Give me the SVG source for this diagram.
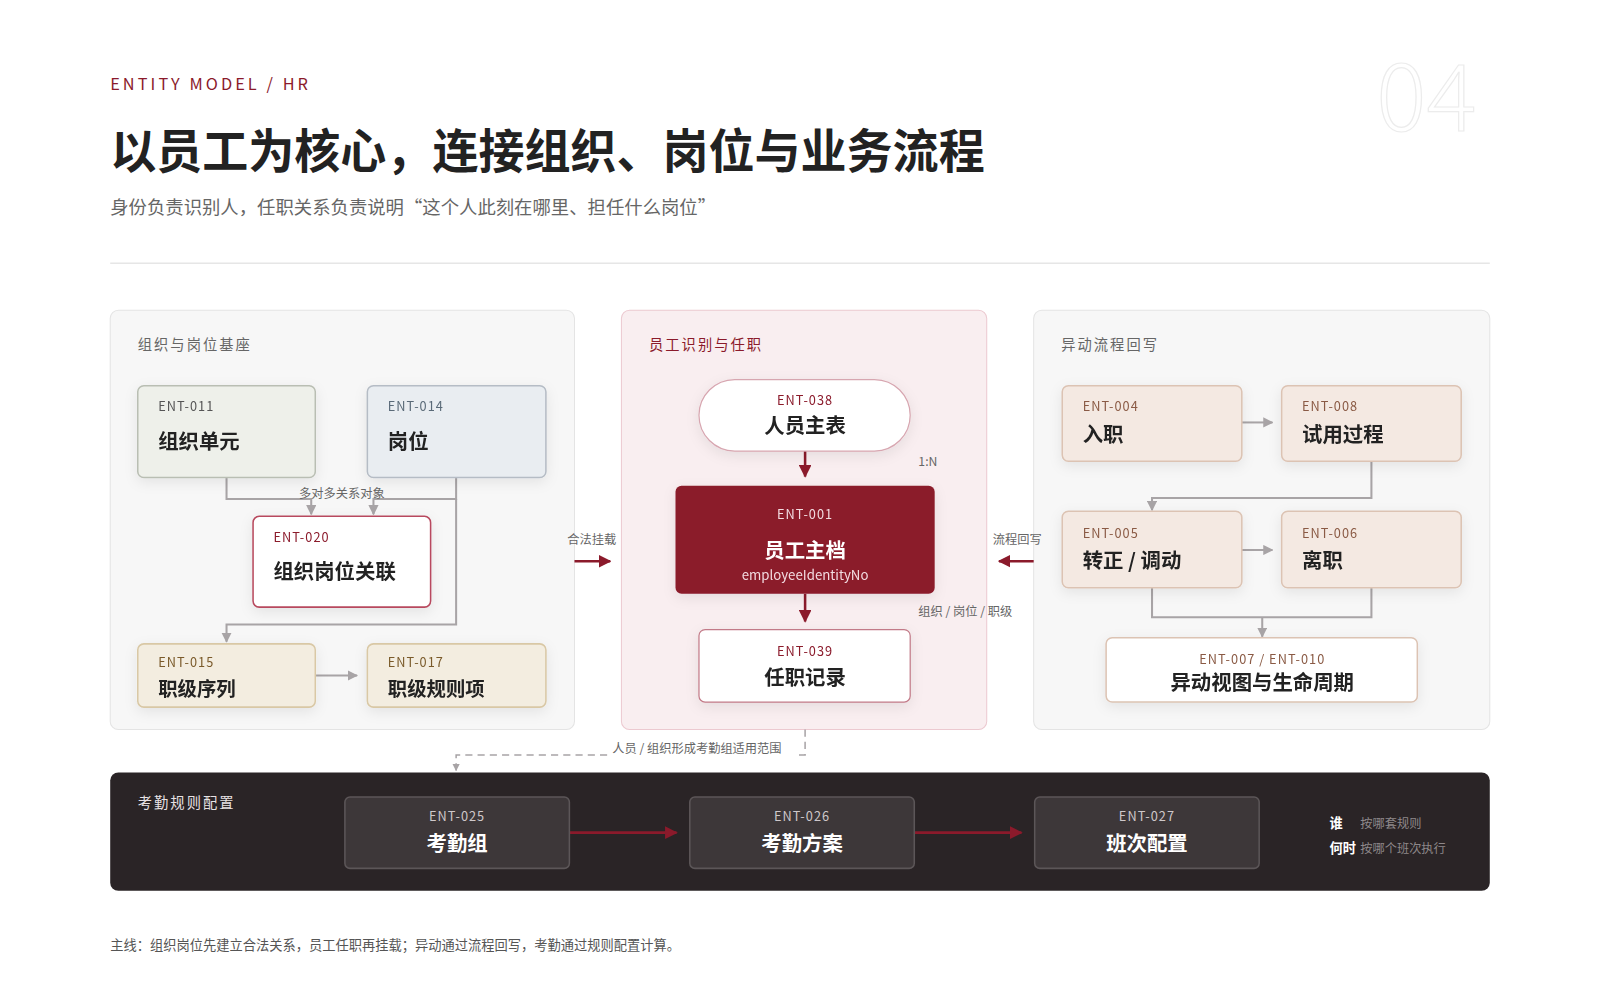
<svg xmlns="http://www.w3.org/2000/svg" width="1600" height="1000" viewBox="0 0 1600 1000">
<style>
text{font-family:"Noto Sans CJK SC","Noto Sans",sans-serif}
.id{font-size:12.5px;letter-spacing:1px}
.nm{font-size:20px;font-weight:700;fill:#222}
.pl{font-size:14px;fill:#666;letter-spacing:2px}
.gl{fill:none;stroke:#a8a4a6;stroke-width:2}
.rl{fill:none;stroke:#8b1a2b;stroke-width:2.5}
.lb{font-size:12px;fill:#666}
.dk{fill:#3d3739;stroke:#5c5658;stroke-width:1.5}
</style>
<defs>
<marker id="ga" viewBox="0 0 10 10" refX="9" refY="5" markerWidth="5" markerHeight="5" orient="auto"><path d="M0,0L10,5L0,10z" fill="#a8a4a6"/></marker>
<marker id="ra" viewBox="0 0 10 10" refX="9" refY="5" markerWidth="5" markerHeight="5" orient="auto"><path d="M0,0L10,5L0,10z" fill="#8b1a2b"/></marker>
<filter id="sh" x="-20%" y="-20%" width="140%" height="150%"><feDropShadow dx="0" dy="4" stdDeviation="6" flood-color="#000" flood-opacity="0.08"/></filter>
</defs>
<rect width="1600" height="1000" fill="#fff"/>
<g transform="scale(1.0204)">
<g id="header">
<text x="108" y="88" font-size="16" fill="#8b1a2b" letter-spacing="3">ENTITY MODEL / HR</text>
<text x="1398" y="128" font-size="92" font-weight="200" fill="none" stroke="#ececec" stroke-width="1.2" text-anchor="middle" font-family="Lato,sans-serif">04</text>
<text x="108" y="165" font-size="46" font-weight="700" fill="#222" textLength="857" lengthAdjust="spacingAndGlyphs">以员工为核心，连接组织、岗位与业务流程</text>
<text x="108" y="210" font-size="18" fill="#666">身份负责识别人，任职关系负责说明“这个人此刻在哪里、担任什么岗位”</text>
<line x1="108" y1="258" x2="1460" y2="258" stroke="#e6e6e6" stroke-width="1.5"/>
</g>
<g id="panels">
<rect x="108" y="304" width="455" height="411" rx="8" fill="#f7f7f7" stroke="#e4e4e4"/>
<text x="135" y="343" class="pl">组织与岗位基座</text>
<rect x="609" y="304" width="358" height="411" rx="8" fill="#f9eef0" stroke="#ecc9d0"/>
<text x="636" y="343" class="pl" style="fill:#8b1a2b">员工识别与任职</text>
<rect x="1013" y="304" width="447" height="411" rx="8" fill="#f7f7f7" stroke="#e4e4e4"/>
<text x="1040" y="343" class="pl">异动流程回写</text>
<rect x="108" y="757" width="1352" height="116" rx="8" fill="#2a2426"/>
<text x="135" y="792" font-size="14" fill="#e8e2e4" letter-spacing="2">考勤规则配置</text>
<text x="1303" y="811" font-size="13" font-weight="700" fill="#fff">谁</text><text x="1333" y="811" font-size="12" fill="#8e888a">按哪套规则</text>
<text x="1303" y="836" font-size="13" font-weight="700" fill="#fff">何时</text><text x="1333" y="836" font-size="12" fill="#8e888a">按哪个班次执行</text>
</g>
<g id="connectors">
<path class="gl" d="M222,468V489H305V504" marker-end="url(#ga)"/>
<path class="gl" d="M447,468V489H366V504" marker-end="url(#ga)"/>
<path class="gl" d="M447,489V612H222V629" marker-end="url(#ga)"/>
<path class="gl" d="M309,662H350" marker-end="url(#ga)"/>
<text x="335" y="488" class="lb" text-anchor="middle">多对多关系对象</text>
<path class="rl" d="M789,442V467" marker-end="url(#ra)"/>
<path class="rl" d="M789,582V609" marker-end="url(#ra)"/>
<text x="900" y="457" class="lb">1:N</text>
<text x="900" y="604" class="lb">组织 / 岗位 / 职级</text>
<path class="rl" d="M563,550H598" marker-end="url(#ra)"/>
<text x="580" y="533" class="lb" text-anchor="middle">合法挂载</text>
<path class="rl" d="M1013,550H979" marker-end="url(#ra)"/>
<text x="997" y="533" class="lb" text-anchor="middle">流程回写</text>
<path class="gl" d="M1217,414H1247" marker-end="url(#ga)"/>
<path class="gl" d="M1344,452V488H1129V500" marker-end="url(#ga)"/>
<path class="gl" d="M1217,539H1247" marker-end="url(#ga)"/>
<path class="gl" d="M1129,576V605H1344V576M1237,605V624" marker-end="url(#ga)"/>
<path d="M789,715V740H780M595,740H447V755" fill="none" stroke="#a8a4a6" stroke-width="1.5" stroke-dasharray="7 5" marker-end="url(#ga)"/>
<text x="600" y="738" class="lb">人员 / 组织形成考勤组适用范围</text>
<path class="rl" d="M558,816H663" marker-end="url(#ra)"/>
<path class="rl" d="M896,816H1001" marker-end="url(#ra)"/>
</g>
<g id="n011" filter="url(#sh)"><rect x="135" y="378" width="174" height="90" rx="6" fill="#eef0ea" stroke="#b9beb3" stroke-width="1.5"/><text x="155" y="403" class="id" fill="#555">ENT-011</text><text x="155" y="440" class="nm">组织单元</text></g>
<g id="n014" filter="url(#sh)"><rect x="360" y="378" width="175" height="90" rx="6" fill="#e9edf1" stroke="#b5bcc5" stroke-width="1.5"/><text x="380" y="403" class="id" fill="#5a6a78">ENT-014</text><text x="380" y="440" class="nm">岗位</text></g>
<g id="n020" filter="url(#sh)"><rect x="248" y="506" width="174" height="89" rx="6" fill="#fff" stroke="#b84a5e" stroke-width="1.5"/><text x="268" y="531" class="id" fill="#8b1a2b">ENT-020</text><text x="268" y="567" class="nm">组织岗位关联</text></g>
<g id="n015" filter="url(#sh)"><rect x="135" y="631" width="174" height="62" rx="6" fill="#f3ede0" stroke="#d9c8a5" stroke-width="1.5"/><text x="155" y="654" class="id" fill="#7a5a2a">ENT-015</text><text x="155" y="682" class="nm" font-size="19" style="font-size:19px">职级序列</text></g>
<g id="n017" filter="url(#sh)"><rect x="360" y="631" width="175" height="62" rx="6" fill="#f3ede0" stroke="#d9c8a5" stroke-width="1.5"/><text x="380" y="654" class="id" fill="#7a5a2a">ENT-017</text><text x="380" y="682" class="nm" style="font-size:19px">职级规则项</text></g>
<g id="n038" filter="url(#sh)"><rect x="685" y="372" width="207" height="70" rx="35" fill="#fff" stroke="#d7a6b0" stroke-width="1.2"/><text x="789" y="397" class="id" fill="#8b1a2b" text-anchor="middle">ENT-038</text><text x="789" y="424" class="nm" text-anchor="middle">人员主表</text></g>
<g id="n001" filter="url(#sh)"><rect x="662" y="476" width="254" height="106" rx="6" fill="#8b1a2b"/><text x="789" y="509" class="id" fill="#f3dde1" text-anchor="middle">ENT-001</text><text x="789" y="547" class="nm" style="fill:#fff" text-anchor="middle">员工主档</text><text x="789" y="568" font-size="13" fill="#f3dde1" text-anchor="middle">employeeIdentityNo</text></g>
<g id="n039" filter="url(#sh)"><rect x="685" y="617" width="207" height="71" rx="6" fill="#fff" stroke="#c27a88" stroke-width="1.2"/><text x="789" y="643" class="id" fill="#8b1a2b" text-anchor="middle">ENT-039</text><text x="789" y="671" class="nm" text-anchor="middle">任职记录</text></g>
<g id="n004" filter="url(#sh)"><rect x="1041" y="378" width="176" height="74" rx="6" fill="#f4e9e2" stroke="#dcc3b3" stroke-width="1.5"/><text x="1061" y="403" class="id" fill="#8a5a44">ENT-004</text><text x="1061" y="433" class="nm">入职</text></g>
<g id="n008" filter="url(#sh)"><rect x="1256" y="378" width="176" height="74" rx="6" fill="#f4e9e2" stroke="#dcc3b3" stroke-width="1.5"/><text x="1276" y="403" class="id" fill="#8a5a44">ENT-008</text><text x="1276" y="433" class="nm">试用过程</text></g>
<g id="n005" filter="url(#sh)"><rect x="1041" y="501" width="176" height="75" rx="6" fill="#f4e9e2" stroke="#dcc3b3" stroke-width="1.5"/><text x="1061" y="527" class="id" fill="#8a5a44">ENT-005</text><text x="1061" y="557" class="nm">转正 / 调动</text></g>
<g id="n006" filter="url(#sh)"><rect x="1256" y="501" width="176" height="75" rx="6" fill="#f4e9e2" stroke="#dcc3b3" stroke-width="1.5"/><text x="1276" y="527" class="id" fill="#8a5a44">ENT-006</text><text x="1276" y="557" class="nm">离职</text></g>
<g id="n007" filter="url(#sh)"><rect x="1084" y="625" width="305" height="63" rx="6" fill="#fff" stroke="#dcc3b3" stroke-width="1.5"/><text x="1237" y="651" class="id" fill="#8a5a44" text-anchor="middle">ENT-007 / ENT-010</text><text x="1237" y="676" class="nm" text-anchor="middle">异动视图与生命周期</text></g>
<g id="n025"><rect x="338" y="781" width="220" height="70" rx="5" class="dk"/><text x="448" y="805" class="id" fill="#cfc8ca" text-anchor="middle">ENT-025</text><text x="448" y="834" class="nm" style="fill:#fff" text-anchor="middle">考勤组</text></g>
<g id="n026"><rect x="676" y="781" width="220" height="70" rx="5" class="dk"/><text x="786" y="805" class="id" fill="#cfc8ca" text-anchor="middle">ENT-026</text><text x="786" y="834" class="nm" style="fill:#fff" text-anchor="middle">考勤方案</text></g>
<g id="n027"><rect x="1014" y="781" width="220" height="70" rx="5" class="dk"/><text x="1124" y="805" class="id" fill="#cfc8ca" text-anchor="middle">ENT-027</text><text x="1124" y="834" class="nm" style="fill:#fff" text-anchor="middle">班次配置</text></g>
<text x="108" y="931" font-size="13" fill="#555">主线：组织岗位先建立合法关系，员工任职再挂载；异动通过流程回写，考勤通过规则配置计算。</text>
</g>
</svg>
